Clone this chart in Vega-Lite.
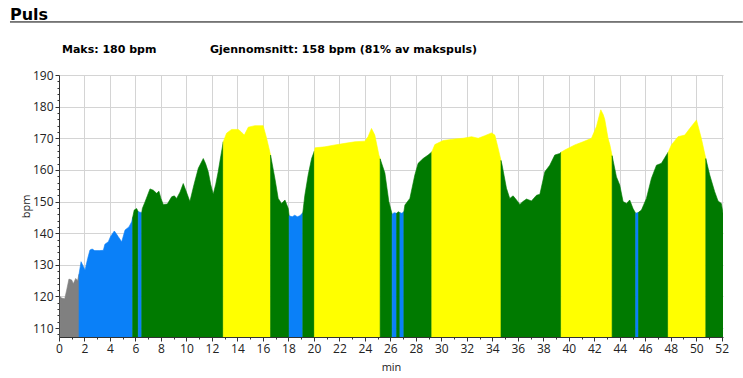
{
  "$schema": "https://vega.github.io/schema/vega-lite/v6.json",
  "width": 664,
  "height": 262,
  "autosize": {"type": "none"},
  "padding": {"left": 59, "top": 75, "right": 20, "bottom": 41},
  "background": "#ffffff",
  "config": {"view": {"stroke": null}},
  "resolve": {"axis": {"x": "independent", "y": "independent"}},
  "datasets": {"puls": [
    {"t":0.08,"bpm":120,"seg":1,"zone":"Sone 1"},{"t":0.2,"bpm":119.5,"seg":1,"zone":"Sone 1"},{"t":0.45,"bpm":119.3,"seg":1,"zone":"Sone 1"},{"t":0.6,"bpm":122,"seg":1,"zone":"Sone 1"},{"t":0.78,"bpm":125.5,"seg":1,"zone":"Sone 1"},{"t":1.0,"bpm":125.2,"seg":1,"zone":"Sone 1"},{"t":1.12,"bpm":124,"seg":1,"zone":"Sone 1"},{"t":1.31,"bpm":125.7,"seg":1,"zone":"Sone 1"},{"t":1.45,"bpm":125,"seg":1,"zone":"Sone 1"},{"t":1.57,"bpm":127,"seg":1,"zone":"Sone 1"},
    {"t":1.57,"bpm":127,"seg":2,"zone":"Sone 2"},{"t":1.73,"bpm":131,"seg":2,"zone":"Sone 2"},{"t":1.85,"bpm":130,"seg":2,"zone":"Sone 2"},{"t":2.04,"bpm":128.3,"seg":2,"zone":"Sone 2"},{"t":2.25,"bpm":132,"seg":2,"zone":"Sone 2"},{"t":2.43,"bpm":134.7,"seg":2,"zone":"Sone 2"},{"t":2.6,"bpm":135,"seg":2,"zone":"Sone 2"},{"t":2.8,"bpm":134.5,"seg":2,"zone":"Sone 2"},{"t":3.2,"bpm":134.5,"seg":2,"zone":"Sone 2"},{"t":3.48,"bpm":134.6,"seg":2,"zone":"Sone 2"},{"t":3.6,"bpm":136.5,"seg":2,"zone":"Sone 2"},{"t":3.87,"bpm":137.3,"seg":2,"zone":"Sone 2"},{"t":4.05,"bpm":139,"seg":2,"zone":"Sone 2"},{"t":4.34,"bpm":140.7,"seg":2,"zone":"Sone 2"},{"t":4.5,"bpm":139.8,"seg":2,"zone":"Sone 2"},{"t":4.65,"bpm":138.9,"seg":2,"zone":"Sone 2"},{"t":4.92,"bpm":137.3,"seg":2,"zone":"Sone 2"},{"t":5.18,"bpm":141,"seg":2,"zone":"Sone 2"},{"t":5.49,"bpm":142,"seg":2,"zone":"Sone 2"},{"t":5.7,"bpm":143.6,"seg":2,"zone":"Sone 2"},{"t":5.78,"bpm":145,"seg":2,"zone":"Sone 2"},
    {"t":5.78,"bpm":145,"seg":3,"zone":"Sone 3"},{"t":5.9,"bpm":147.3,"seg":3,"zone":"Sone 3"},{"t":6.09,"bpm":147.8,"seg":3,"zone":"Sone 3"},{"t":6.22,"bpm":146.8,"seg":3,"zone":"Sone 3"},
    {"t":6.22,"bpm":146.8,"seg":4,"zone":"Sone 2"},{"t":6.49,"bpm":146.5,"seg":4,"zone":"Sone 2"},
    {"t":6.49,"bpm":146.5,"seg":5,"zone":"Sone 3"},{"t":6.54,"bpm":147.8,"seg":5,"zone":"Sone 3"},{"t":6.75,"bpm":149.9,"seg":5,"zone":"Sone 3"},{"t":6.95,"bpm":152,"seg":5,"zone":"Sone 3"},{"t":7.14,"bpm":154,"seg":5,"zone":"Sone 3"},{"t":7.4,"bpm":153.6,"seg":5,"zone":"Sone 3"},{"t":7.66,"bpm":152.6,"seg":5,"zone":"Sone 3"},{"t":7.84,"bpm":153.3,"seg":5,"zone":"Sone 3"},{"t":8.0,"bpm":151,"seg":5,"zone":"Sone 3"},{"t":8.18,"bpm":149.1,"seg":5,"zone":"Sone 3"},{"t":8.5,"bpm":149.2,"seg":5,"zone":"Sone 3"},{"t":8.84,"bpm":151.5,"seg":5,"zone":"Sone 3"},{"t":9.05,"bpm":151.8,"seg":5,"zone":"Sone 3"},{"t":9.23,"bpm":151,"seg":5,"zone":"Sone 3"},{"t":9.5,"bpm":153,"seg":5,"zone":"Sone 3"},{"t":9.75,"bpm":155.7,"seg":5,"zone":"Sone 3"},{"t":10.0,"bpm":153,"seg":5,"zone":"Sone 3"},{"t":10.27,"bpm":150,"seg":5,"zone":"Sone 3"},{"t":10.6,"bpm":155.5,"seg":5,"zone":"Sone 3"},{"t":10.93,"bpm":160.5,"seg":5,"zone":"Sone 3"},{"t":11.32,"bpm":163.6,"seg":5,"zone":"Sone 3"},{"t":11.5,"bpm":162,"seg":5,"zone":"Sone 3"},{"t":11.71,"bpm":159.4,"seg":5,"zone":"Sone 3"},{"t":11.9,"bpm":155.5,"seg":5,"zone":"Sone 3"},{"t":12.1,"bpm":152.3,"seg":5,"zone":"Sone 3"},{"t":12.3,"bpm":155.5,"seg":5,"zone":"Sone 3"},{"t":12.49,"bpm":159.4,"seg":5,"zone":"Sone 3"},{"t":12.7,"bpm":164.5,"seg":5,"zone":"Sone 3"},{"t":12.89,"bpm":168.9,"seg":5,"zone":"Sone 3"},
    {"t":12.89,"bpm":168.9,"seg":6,"zone":"Sone 4"},{"t":13.15,"bpm":171.6,"seg":6,"zone":"Sone 4"},{"t":13.54,"bpm":172.8,"seg":6,"zone":"Sone 4"},{"t":14.07,"bpm":172.8,"seg":6,"zone":"Sone 4"},{"t":14.3,"bpm":172,"seg":6,"zone":"Sone 4"},{"t":14.54,"bpm":171,"seg":6,"zone":"Sone 4"},{"t":14.85,"bpm":173.5,"seg":6,"zone":"Sone 4"},{"t":15.37,"bpm":174,"seg":6,"zone":"Sone 4"},{"t":16.02,"bpm":174,"seg":6,"zone":"Sone 4"},{"t":16.29,"bpm":170,"seg":6,"zone":"Sone 4"},{"t":16.6,"bpm":164.7,"seg":6,"zone":"Sone 4"},
    {"t":16.6,"bpm":164.7,"seg":7,"zone":"Sone 3"},{"t":16.94,"bpm":157.3,"seg":7,"zone":"Sone 3"},{"t":17.2,"bpm":151,"seg":7,"zone":"Sone 3"},{"t":17.46,"bpm":149.4,"seg":7,"zone":"Sone 3"},{"t":17.73,"bpm":150.5,"seg":7,"zone":"Sone 3"},{"t":17.99,"bpm":147.8,"seg":7,"zone":"Sone 3"},{"t":18.06,"bpm":145.5,"seg":7,"zone":"Sone 3"},
    {"t":18.06,"bpm":145.5,"seg":8,"zone":"Sone 2"},{"t":18.3,"bpm":145.2,"seg":8,"zone":"Sone 2"},{"t":18.5,"bpm":145.7,"seg":8,"zone":"Sone 2"},{"t":18.7,"bpm":145.2,"seg":8,"zone":"Sone 2"},{"t":18.9,"bpm":145.5,"seg":8,"zone":"Sone 2"},{"t":19.13,"bpm":146.5,"seg":8,"zone":"Sone 2"},
    {"t":19.13,"bpm":146.5,"seg":9,"zone":"Sone 3"},{"t":19.29,"bpm":152,"seg":9,"zone":"Sone 3"},{"t":19.55,"bpm":158.4,"seg":9,"zone":"Sone 3"},{"t":19.82,"bpm":163.6,"seg":9,"zone":"Sone 3"},{"t":20.04,"bpm":166,"seg":9,"zone":"Sone 3"},
    {"t":20.04,"bpm":166,"seg":10,"zone":"Sone 4"},{"t":20.1,"bpm":167,"seg":10,"zone":"Sone 4"},{"t":20.86,"bpm":167.3,"seg":10,"zone":"Sone 4"},{"t":21.65,"bpm":167.9,"seg":10,"zone":"Sone 4"},{"t":22.43,"bpm":168.4,"seg":10,"zone":"Sone 4"},{"t":23.22,"bpm":168.9,"seg":10,"zone":"Sone 4"},{"t":24.0,"bpm":169.1,"seg":10,"zone":"Sone 4"},{"t":24.25,"bpm":170.5,"seg":10,"zone":"Sone 4"},{"t":24.52,"bpm":173.1,"seg":10,"zone":"Sone 4"},{"t":24.78,"bpm":171,"seg":10,"zone":"Sone 4"},{"t":25.1,"bpm":164.7,"seg":10,"zone":"Sone 4"},{"t":25.2,"bpm":163.5,"seg":10,"zone":"Sone 4"},
    {"t":25.2,"bpm":163.5,"seg":11,"zone":"Sone 3"},{"t":25.57,"bpm":159,"seg":11,"zone":"Sone 3"},{"t":25.88,"bpm":150,"seg":11,"zone":"Sone 3"},{"t":26.14,"bpm":146,"seg":11,"zone":"Sone 3"},
    {"t":26.14,"bpm":146,"seg":12,"zone":"Sone 2"},{"t":26.3,"bpm":146.5,"seg":12,"zone":"Sone 2"},{"t":26.49,"bpm":146.3,"seg":12,"zone":"Sone 2"},
    {"t":26.49,"bpm":146.3,"seg":13,"zone":"Sone 3"},{"t":26.62,"bpm":146.8,"seg":13,"zone":"Sone 3"},{"t":26.75,"bpm":146.5,"seg":13,"zone":"Sone 3"},
    {"t":26.75,"bpm":146.5,"seg":14,"zone":"Sone 2"},{"t":26.9,"bpm":146.3,"seg":14,"zone":"Sone 2"},{"t":27.06,"bpm":146.8,"seg":14,"zone":"Sone 2"},
    {"t":27.06,"bpm":146.8,"seg":15,"zone":"Sone 3"},{"t":27.14,"bpm":148.9,"seg":15,"zone":"Sone 3"},{"t":27.53,"bpm":151,"seg":15,"zone":"Sone 3"},{"t":27.92,"bpm":158.4,"seg":15,"zone":"Sone 3"},{"t":28.18,"bpm":162.1,"seg":15,"zone":"Sone 3"},{"t":28.57,"bpm":163.6,"seg":15,"zone":"Sone 3"},{"t":28.96,"bpm":164.7,"seg":15,"zone":"Sone 3"},{"t":29.25,"bpm":165.7,"seg":15,"zone":"Sone 3"},
    {"t":29.25,"bpm":165.7,"seg":16,"zone":"Sone 4"},{"t":29.49,"bpm":168,"seg":16,"zone":"Sone 4"},{"t":30.14,"bpm":169.3,"seg":16,"zone":"Sone 4"},{"t":31.06,"bpm":169.8,"seg":16,"zone":"Sone 4"},{"t":31.7,"bpm":170,"seg":16,"zone":"Sone 4"},{"t":32.37,"bpm":170.5,"seg":16,"zone":"Sone 4"},{"t":32.89,"bpm":170,"seg":16,"zone":"Sone 4"},{"t":33.4,"bpm":170.8,"seg":16,"zone":"Sone 4"},{"t":33.94,"bpm":171.7,"seg":16,"zone":"Sone 4"},{"t":34.2,"bpm":171,"seg":16,"zone":"Sone 4"},{"t":34.46,"bpm":166.8,"seg":16,"zone":"Sone 4"},{"t":34.68,"bpm":163,"seg":16,"zone":"Sone 4"},
    {"t":34.68,"bpm":163,"seg":17,"zone":"Sone 3"},{"t":34.77,"bpm":161.5,"seg":17,"zone":"Sone 3"},{"t":35.11,"bpm":154.2,"seg":17,"zone":"Sone 3"},{"t":35.37,"bpm":151,"seg":17,"zone":"Sone 3"},{"t":35.63,"bpm":151.8,"seg":17,"zone":"Sone 3"},{"t":35.9,"bpm":150.5,"seg":17,"zone":"Sone 3"},{"t":36.16,"bpm":149.1,"seg":17,"zone":"Sone 3"},{"t":36.4,"bpm":150,"seg":17,"zone":"Sone 3"},{"t":36.68,"bpm":150.8,"seg":17,"zone":"Sone 3"},{"t":37.07,"bpm":150.2,"seg":17,"zone":"Sone 3"},{"t":37.47,"bpm":152,"seg":17,"zone":"Sone 3"},{"t":37.73,"bpm":152.3,"seg":17,"zone":"Sone 3"},{"t":38.12,"bpm":159.4,"seg":17,"zone":"Sone 3"},{"t":38.51,"bpm":161.5,"seg":17,"zone":"Sone 3"},{"t":38.9,"bpm":164.7,"seg":17,"zone":"Sone 3"},{"t":39.29,"bpm":165.2,"seg":17,"zone":"Sone 3"},{"t":39.4,"bpm":165.6,"seg":17,"zone":"Sone 3"},
    {"t":39.4,"bpm":165.6,"seg":18,"zone":"Sone 4"},{"t":39.69,"bpm":166.3,"seg":18,"zone":"Sone 4"},{"t":40.47,"bpm":167.9,"seg":18,"zone":"Sone 4"},{"t":41.12,"bpm":168.9,"seg":18,"zone":"Sone 4"},{"t":41.78,"bpm":170,"seg":18,"zone":"Sone 4"},{"t":42.17,"bpm":173.7,"seg":18,"zone":"Sone 4"},{"t":42.51,"bpm":179,"seg":18,"zone":"Sone 4"},{"t":42.7,"bpm":177.5,"seg":18,"zone":"Sone 4"},{"t":42.82,"bpm":176,"seg":18,"zone":"Sone 4"},{"t":43.08,"bpm":170,"seg":18,"zone":"Sone 4"},{"t":43.22,"bpm":168,"seg":18,"zone":"Sone 4"},{"t":43.4,"bpm":164.5,"seg":18,"zone":"Sone 4"},
    {"t":43.4,"bpm":164.5,"seg":19,"zone":"Sone 3"},{"t":43.74,"bpm":157.8,"seg":19,"zone":"Sone 3"},{"t":44.0,"bpm":155.2,"seg":19,"zone":"Sone 3"},{"t":44.26,"bpm":150,"seg":19,"zone":"Sone 3"},{"t":44.53,"bpm":149.4,"seg":19,"zone":"Sone 3"},{"t":44.78,"bpm":150.5,"seg":19,"zone":"Sone 3"},{"t":45.04,"bpm":147.8,"seg":19,"zone":"Sone 3"},{"t":45.25,"bpm":146.3,"seg":19,"zone":"Sone 3"},
    {"t":45.25,"bpm":146.3,"seg":20,"zone":"Sone 2"},{"t":45.47,"bpm":146.6,"seg":20,"zone":"Sone 2"},
    {"t":45.47,"bpm":146.6,"seg":21,"zone":"Sone 3"},{"t":45.7,"bpm":147.3,"seg":21,"zone":"Sone 3"},{"t":46.09,"bpm":151,"seg":21,"zone":"Sone 3"},{"t":46.48,"bpm":157.3,"seg":21,"zone":"Sone 3"},{"t":46.88,"bpm":161.5,"seg":21,"zone":"Sone 3"},{"t":47.27,"bpm":162.1,"seg":21,"zone":"Sone 3"},{"t":47.66,"bpm":164.7,"seg":21,"zone":"Sone 3"},{"t":47.8,"bpm":165.6,"seg":21,"zone":"Sone 3"},
    {"t":47.8,"bpm":165.6,"seg":22,"zone":"Sone 4"},{"t":48.05,"bpm":167.9,"seg":22,"zone":"Sone 4"},{"t":48.57,"bpm":170.5,"seg":22,"zone":"Sone 4"},{"t":49.1,"bpm":171,"seg":22,"zone":"Sone 4"},{"t":49.49,"bpm":173.1,"seg":22,"zone":"Sone 4"},{"t":50.02,"bpm":175.8,"seg":22,"zone":"Sone 4"},{"t":50.4,"bpm":170,"seg":22,"zone":"Sone 4"},{"t":50.75,"bpm":163.6,"seg":22,"zone":"Sone 4"},
    {"t":50.75,"bpm":163.6,"seg":23,"zone":"Sone 3"},{"t":51.06,"bpm":158.4,"seg":23,"zone":"Sone 3"},{"t":51.45,"bpm":153.1,"seg":23,"zone":"Sone 3"},{"t":51.71,"bpm":150.2,"seg":23,"zone":"Sone 3"},{"t":51.97,"bpm":149.4,"seg":23,"zone":"Sone 3"},{"t":52.1,"bpm":146.3,"seg":23,"zone":"Sone 3"}
  ]},
  "layer": [
    {
      "data": {"name": "puls"},
      "mark": {"type": "area", "clip": true, "strokeWidth": 0.6},
      "encoding": {
        "x": {"field": "t", "type": "quantitative", "title": "min",
          "scale": {"domain": [0, 52.1], "nice": false, "zero": false},
          "axis": {"values": [0,1,2,3,4,5,6,7,8,9,10,11,12,13,14,15,16,17,18,19,20,21,22,23,24,25,26,27,28,29,30,31,32,33,34,35,36,37,38,39,40,41,42,43,44,45,46,47,48,49,50,51,52],
            "labelExpr": "datum.value % 2 === 0 ? datum.label : ''",
            "tickSize": {"condition": {"test": "datum.value % 2 === 0", "value": 4}, "value": 2},
            "gridOpacity": {"condition": {"test": "datum.value % 2 === 0 && datum.value > 0", "value": 1}, "value": 0},
            "grid": true, "gridColor": "#d4d4d4", "gridWidth": 1,
            "domainColor": "#333333", "tickColor": "#333333",
            "labelFont": "Open Sans", "labelFontSize": 12, "labelColor": "#222222", "labelPadding": 2, "labelFlush": false, "labelOverlap": false,
            "titleFont": "Open Sans", "titleFontSize": 11, "titleFontWeight": "normal", "titleColor": "#222222", "titlePadding": 7}},
        "y": {"field": "bpm", "type": "quantitative", "title": "bpm", "stack": null,
          "scale": {"domain": [107.2, 190], "nice": false, "zero": false},
          "axis": {"values": [108,110,112,114,116,118,120,122,124,126,128,130,132,134,136,138,140,142,144,146,148,150,152,154,156,158,160,162,164,166,168,170,172,174,176,178,180,182,184,186,188,190],
            "labelExpr": "datum.value % 10 === 0 ? datum.label : ''",
            "tickSize": {"condition": {"test": "datum.value % 10 === 0", "value": 4}, "value": 2},
            "gridOpacity": {"condition": {"test": "datum.value % 10 === 0", "value": 1}, "value": 0},
            "grid": true, "gridColor": "#d4d4d4", "gridWidth": 1,
            "domainColor": "#333333", "tickColor": "#333333",
            "labelFont": "Open Sans", "labelFontSize": 12, "labelColor": "#222222", "labelPadding": 2, "labelOverlap": false,
            "titleFont": "Open Sans", "titleFontSize": 11, "titleFontWeight": "normal", "titleColor": "#222222", "titlePadding": 1}},
        "detail": {"field": "seg", "type": "nominal"},
        "color": {"field": "zone", "type": "nominal", "legend": null,
          "scale": {"domain": ["Sone 1", "Sone 2", "Sone 3", "Sone 4"], "range": ["#808080", "#0a80f8", "#007a00", "#ffff00"]}},
        "stroke": {"field": "zone", "type": "nominal", "legend": null,
          "scale": {"domain": ["Sone 1", "Sone 2", "Sone 3", "Sone 4"], "range": ["#808080", "#0a80f8", "#007a00", "#ffff00"]}}
      }
    },
    {
      "data": {"values": [{"k": 1}]},
      "mark": {"type": "rule", "clip": false, "color": "#000000", "strokeWidth": 1},
      "encoding": {
        "x": {"datum": -3.845, "axis": null},
        "x2": {"datum": 53.65},
        "y": {"datum": 206.76, "axis": null}
      }
    },
    {
      "data": {"values": [{"k": 1}]},
      "mark": {"type": "text", "clip": false, "align": "left", "baseline": "alphabetic", "font": "DejaVu Sans", "fontSize": 16, "fontWeight": "bold", "color": "#000000"},
      "encoding": {
        "x": {"datum": -3.845, "axis": null},
        "y": {"datum": 207.38, "axis": null},
        "text": {"value": "Puls"}
      }
    },
    {
      "data": {"values": [{"k": 1}]},
      "mark": {"type": "text", "clip": false, "align": "left", "baseline": "middle", "font": "DejaVu Sans", "fontSize": 11, "fontWeight": "bold", "color": "#000000"},
      "encoding": {
        "x": {"datum": 0.235, "axis": null},
        "y": {"datum": 197.9, "axis": null},
        "text": {"value": "Maks: 180 bpm"}
      }
    },
    {
      "data": {"values": [{"k": 1}]},
      "mark": {"type": "text", "clip": false, "align": "left", "baseline": "middle", "font": "DejaVu Sans", "fontSize": 11, "fontWeight": "bold", "color": "#000000"},
      "encoding": {
        "x": {"datum": 11.85, "axis": null},
        "y": {"datum": 197.9, "axis": null},
        "text": {"value": "Gjennomsnitt: 158 bpm (81% av makspuls)"}
      }
    }
  ]
}
